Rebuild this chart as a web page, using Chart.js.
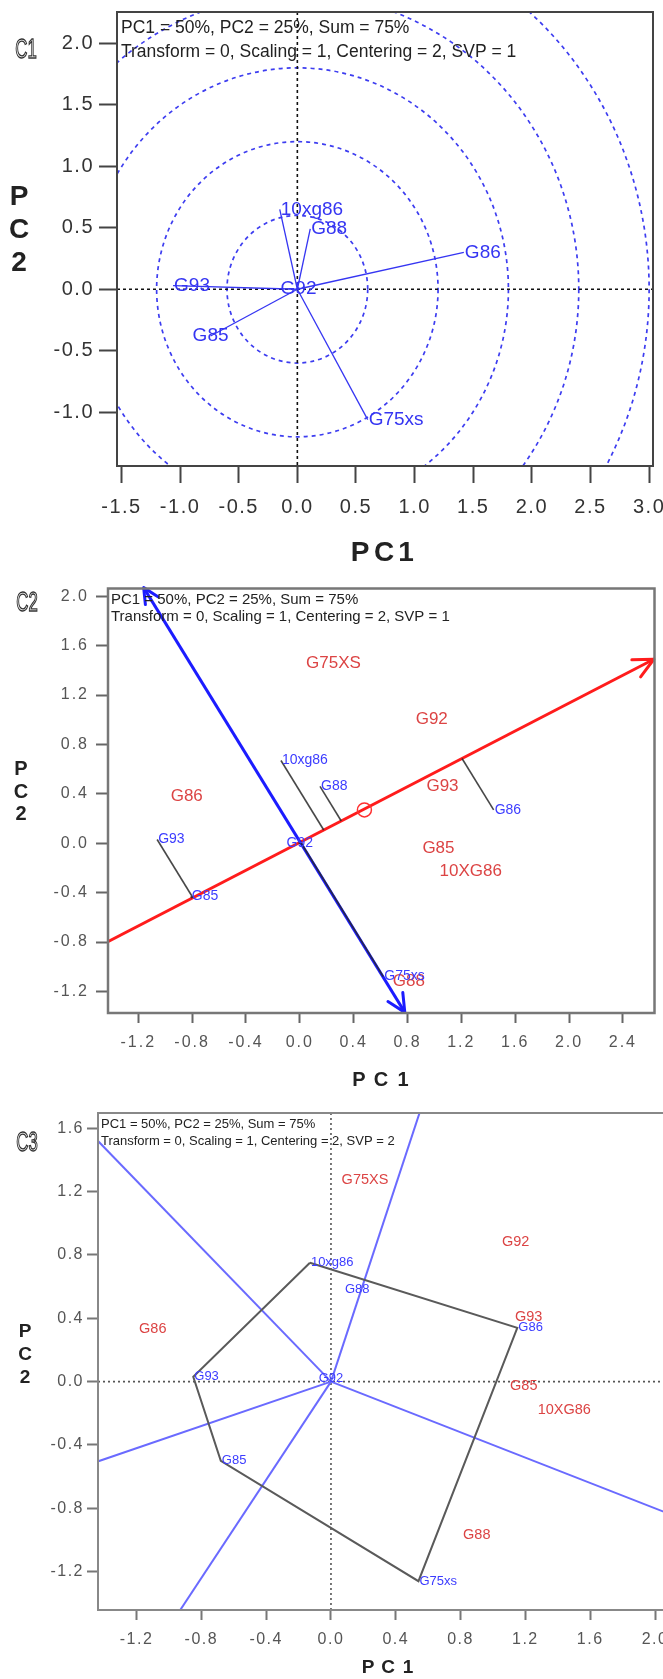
<!DOCTYPE html>
<html>
<head>
<meta charset="utf-8">
<title>GGE biplots C1 - C3</title>
<script src="https://cdn.jsdelivr.net/npm/chart.js@4.4.1/dist/chart.umd.min.js"></script>
<style>
  html, body { margin: 0; padding: 0; background: #fff; }
  #page { position: relative; width: 663px; height: 1679px; overflow: hidden; }
  #page canvas { position: absolute; left: 0; }
</style>
</head>
<body>
<div id="page">
  <canvas id="c1" width="663" height="580" style="top:0px"></canvas>
  <canvas id="c2" width="663" height="520" style="top:580px"></canvas>
  <canvas id="c3" width="700" height="579" style="top:1100px"></canvas>
</div>
<script>
// ---- C1: vector view (SVP = 1) ----
const genos1 = ["G86", "10xg86", "G88", "G93", "G92", "G85", "G75xs"];
const pc1_1 = [1.42, -0.15, 0.11, -1.06, 0.01, -0.74, 0.60];
const pc2_1 = [0.30, 0.65, 0.49, 0.03, 0.00, -0.38, -1.06];
const align1 = ["left", "left", "left", "left", "center", "center", "left"];
const radii1 = [0.6, 1.2, 1.8, 2.4, 3.0];
const xTicks1 = [-1.5, -1.0, -0.5, 0, 0.5, 1.0, 1.5, 2.0, 2.5, 3.0];
const yTicks1 = [-1.0, -0.5, 0, 0.5, 1.0, 1.5, 2.0];
const header1 = ["PC1 = 50%, PC2 = 25%, Sum = 75%", "Transform = 0, Scaling = 1, Centering = 2, SVP = 1"];

// ---- C2: mean vs. stability (SVP = 1) ----
const genos2 = ["G86", "10xg86", "G88", "G93", "G92", "G85", "G75xs"];
const pc1_2 = [1.44, -0.14, 0.15, -1.06, 0.00, -0.81, 0.62];
const pc2_2 = [0.27, 0.67, 0.46, 0.03, 0.00, -0.43, -1.08];
const align2 = ["left", "left", "left", "left", "center", "left", "left"];
const envs2 = ["G75XS", "G92", "G93", "G86", "G85", "10XG86", "G88"];
const envPc1_2 = [0.25, 0.98, 1.06, -0.84, 1.03, 1.27, 0.81];
const envPc2_2 = [1.46, 1.00, 0.46, 0.38, -0.04, -0.23, -1.12];
const aeaX = [-1.43, 2.63];
const aeaY = [-0.80, 1.49];
const atcX = [-1.16, 0.78];
const atcY = [2.07, -1.37];
const aeaMean = [0.48, 0.27];
const xTicks2 = [-1.2, -0.8, -0.4, 0, 0.4, 0.8, 1.2, 1.6, 2.0, 2.4];
const yTicks2 = [-1.2, -0.8, -0.4, 0, 0.4, 0.8, 1.2, 1.6, 2.0];
const header2 = ["PC1 = 50%, PC2 = 25%, Sum = 75%", "Transform = 0, Scaling = 1, Centering = 2, SVP = 1"];

// ---- C3: which-won-where (SVP = 2) ----
const genos3 = ["10xg86", "G86", "G75xs", "G85", "G93", "G88", "G92"];
const pc1_3 = [-0.13, 1.15, 0.54, -0.68, -0.85, 0.08, 0.00];
const pc2_3 = [0.75, 0.34, -1.26, -0.50, 0.03, 0.58, 0.02];
const align3 = ["left", "left", "left", "left", "left", "left", "center"];
const hull3 = ["10xg86", "G86", "G75xs", "G85", "G93"];
const envs3 = ["G75XS", "G92", "G93", "G86", "G85", "10XG86", "G88"];
const envPc1_3 = [0.21, 1.14, 1.22, -1.10, 1.19, 1.44, 0.90];
const envPc2_3 = [1.27, 0.88, 0.41, 0.33, -0.03, -0.18, -0.97];
const rayX3 = [-1.60, 0.58, -1.60, -1.00, 2.40];
const rayY3 = [1.69, 1.80, -0.56, -1.55, -0.96];
const xTicks3 = [-1.2, -0.8, -0.4, 0, 0.4, 0.8, 1.2, 1.6, 2.0];
const yTicks3 = [-1.2, -0.8, -0.4, 0, 0.4, 0.8, 1.2, 1.6];
const header3 = ["PC1 = 50%, PC2 = 25%, Sum = 75%", "Transform = 0, Scaling = 1, Centering = 2, SVP = 2"];

const SANS = '"Liberation Sans", Arial, sans-serif';
const xy = (xs, ys) => xs.map((x, i) => ({ x: x, y: ys[i] }));

function scaleOpts(o) {
    return {
        type: "linear", position: o.position, min: o.min, max: o.max,
        afterBuildTicks: s => { s.ticks = o.ticks.map(v => ({ value: v })); },
        afterFit: s => {
            if (o.position === "bottom") s.height = o.size; else s.width = o.size;
            s.paddingLeft = s.paddingRight = s.paddingTop = s.paddingBottom = 0;
        },
        border: { display: false },
        grid: { drawOnChartArea: false, drawTicks: true, tickLength: o.tickLength, tickColor: o.tickColor, tickWidth: 2 },
        ticks: {
            autoSkip: false, maxRotation: 0, padding: o.pad, color: o.labelColor,
            font: { family: SANS, size: o.fontSize },
            callback: v => v.toFixed(1)
        }
    };
}

function line(data, color, width, order) {
    return { data, showLine: true, borderColor: color, borderWidth: width, pointRadius: 0, fill: false, order: order || 0 };
}

function frame(chart, color, width) {
    const { ctx, chartArea: a } = chart;
    ctx.save();
    ctx.strokeStyle = color; ctx.lineWidth = width;
    ctx.strokeRect(a.left, a.top, a.right - a.left, a.bottom - a.top);
    ctx.restore();
}

function header(ctx, lines, x, ys, size) {
    ctx.save();
    ctx.font = size + "px " + SANS; ctx.fillStyle = "#222";
    ctx.textAlign = "left"; ctx.textBaseline = "middle";
    lines.forEach((t, i) => ctx.fillText(t, x, ys[i]));
    ctx.restore();
}

function panelTag(ctx, text, cx, cy) {
    ctx.save();
    ctx.translate(cx, cy); ctx.scale(0.62, 1);
    ctx.font = "27px " + SANS; ctx.textAlign = "center"; ctx.textBaseline = "middle";
    ctx.strokeStyle = "#333"; ctx.lineWidth = 1.4;
    ctx.strokeText(text, 0, 0);
    ctx.restore();
}

function letters(ctx, chars, xs, ys, size) {
    ctx.save();
    ctx.font = "bold " + size + "px " + SANS; ctx.fillStyle = "#222";
    ctx.textAlign = "center"; ctx.textBaseline = "middle";
    chars.forEach((c, i) => ctx.fillText(c, xs[i], ys[i]));
    ctx.restore();
}

function labels(chart, names, xs, ys, font, color, align) {
    const { ctx, scales: { x, y } } = chart;
    ctx.save();
    ctx.font = font; ctx.fillStyle = color; ctx.textBaseline = "middle";
    names.forEach((n, i) => {
        const a = align ? align[i] : "center";
        ctx.textAlign = a;
        ctx.fillText(n, x.getPixelForValue(xs[i]) + (a === "left" ? 1 : 0), y.getPixelForValue(ys[i]));
    });
    ctx.restore();
}

function clipArea(chart) {
    const { ctx, chartArea: a } = chart;
    ctx.beginPath(); ctx.rect(a.left, a.top, a.right - a.left, a.bottom - a.top); ctx.clip();
}

function zeroLines(chart, color, width, dash) {
    const { ctx, chartArea: a, scales: { x, y } } = chart;
    const x0 = x.getPixelForValue(0), y0 = y.getPixelForValue(0);
    ctx.save(); clipArea(chart);
    ctx.strokeStyle = color; ctx.lineWidth = width; ctx.setLineDash(dash);
    ctx.beginPath();
    ctx.moveTo(x0, a.top); ctx.lineTo(x0, a.bottom);
    ctx.moveTo(a.left, y0); ctx.lineTo(a.right, y0);
    ctx.stroke();
    ctx.restore();
}

function circles(chart, radii, color) {
    const { ctx, scales: { x, y } } = chart;
    const cx = x.getPixelForValue(0), cy = y.getPixelForValue(0);
    ctx.save(); clipArea(chart);
    ctx.strokeStyle = color; ctx.lineWidth = 1.7; ctx.setLineDash([4, 4]);
    radii.forEach(r => {
        ctx.beginPath();
        ctx.ellipse(cx, cy, Math.abs(x.getPixelForValue(r) - cx), Math.abs(y.getPixelForValue(r) - cy), 0, 0, Math.PI * 2);
        ctx.stroke();
    });
    ctx.restore();
}

function arrowHead(chart, fromX, fromY, tipX, tipY, len, color, width) {
    const { ctx, scales: { x, y } } = chart;
    const tx = x.getPixelForValue(tipX), ty = y.getPixelForValue(tipY);
    const ang = Math.atan2(ty - y.getPixelForValue(fromY), tx - x.getPixelForValue(fromX));
    ctx.save();
    ctx.strokeStyle = color; ctx.lineWidth = width; ctx.lineCap = "round";
    ctx.beginPath();
    [-0.45, 0.45].forEach(d => {
        ctx.moveTo(tx, ty);
        ctx.lineTo(tx - len * Math.cos(ang + d), ty - len * Math.sin(ang + d));
    });
    ctx.stroke();
    ctx.restore();
}

function biplot(id, cfg) {
    return new Chart(document.getElementById(id), {
        type: "scatter",
        data: { datasets: cfg.datasets },
        options: {
            responsive: false, animation: false, events: [],
            layout: { padding: cfg.padding },
            plugins: { legend: { display: false }, tooltip: { enabled: false } },
            scales: { x: scaleOpts(cfg.x), y: scaleOpts(cfg.y) }
        },
        plugins: [{
            id: "decor",
            beforeDraw: chart => { chart.ctx.letterSpacing = cfg.tickSpacing; },
            beforeDatasetsDraw: chart => { chart.ctx.letterSpacing = "0px"; if (cfg.under) cfg.under(chart); },
            afterDatasetsDraw: chart => { if (cfg.over) cfg.over(chart); },
            afterDraw: chart => { chart.ctx.letterSpacing = "0px"; if (cfg.last) cfg.last(chart); }
        }]
    });
}

// ---------- C1 ----------
biplot("c1", {
    padding: { top: 12, right: 10, left: 0, bottom: 0 },
    tickSpacing: "1.5px",
    x: { position: "bottom", min: -1.538, max: 3.033, ticks: xTicks1, size: 114, tickLength: 17, tickColor: "#444", pad: 12, labelColor: "#333", fontSize: 20 },
    y: { position: "left", min: -1.437, max: 2.254, ticks: yTicks1, size: 117, tickLength: 18, tickColor: "#444", pad: 5, labelColor: "#333", fontSize: 20 },
    datasets: genos1.map((g, i) => line([{ x: 0, y: 0 }, { x: pc1_1[i], y: pc2_1[i] }], "#3535f2", 1.3)),
    under: chart => {
        circles(chart, radii1, "#3d3df0");
        zeroLines(chart, "#111", 1.6, [3, 3]);
    },
    over: chart => labels(chart, genos1, pc1_1, pc2_1, "19px " + SANS, "#3535f2", align1),
    last: chart => {
        frame(chart, "#444", 2);
        header(chart.ctx, header1, 121, [28, 52], 17.5);
        panelTag(chart.ctx, "C1", 26, 51);
        letters(chart.ctx, ["P", "C", "1"], [360, 384, 406], [553, 553, 553], 28);
        letters(chart.ctx, ["P", "C", "2"], [19, 19, 19], [197, 230, 263], 28);
    }
});

// ---------- C2 ----------
const aeaDir = [aeaX[1] - aeaX[0], aeaY[1] - aeaY[0]];
function footOnAea(px, py) {
    const t = ((px - aeaX[0]) * aeaDir[0] + (py - aeaY[0]) * aeaDir[1]) / (aeaDir[0] * aeaDir[0] + aeaDir[1] * aeaDir[1]);
    return { x: aeaX[0] + t * aeaDir[0], y: aeaY[0] + t * aeaDir[1] };
}

biplot("c2", {
    padding: { top: 8, right: 8, left: 0, bottom: 0 },
    tickSpacing: "2px",
    x: { position: "bottom", min: -1.425, max: 2.635, ticks: xTicks2, size: 87, tickLength: 10, tickColor: "#666", pad: 10, labelColor: "#555", fontSize: 16 },
    y: { position: "left", min: -1.375, max: 2.063, ticks: yTicks2, size: 108, tickLength: 12, tickColor: "#666", pad: 7, labelColor: "#555", fontSize: 16 },
    datasets: [
        ...genos2.map((g, i) => line([{ x: pc1_2[i], y: pc2_2[i] }, footOnAea(pc1_2[i], pc2_2[i])], "rgba(40,40,40,0.85)", 1.6, 0)),
        line(xy(atcX, atcY), "#1c1cff", 3, 1),
        line(xy(aeaX, aeaY), "#ff1c1c", 3, 2),
        { data: [{ x: aeaMean[0], y: aeaMean[1] }], pointRadius: 7, pointBorderColor: "#ff3030", pointBackgroundColor: "rgba(0,0,0,0)", pointBorderWidth: 1.5, order: 0 }
    ],
    over: chart => {
        arrowHead(chart, aeaX[0], aeaY[0], aeaX[1], aeaY[1], 22, "#ff1c1c", 3);
        arrowHead(chart, atcX[1], atcY[1], atcX[0], atcY[0], 17, "#1c1cff", 3);
        arrowHead(chart, atcX[0], atcY[0], atcX[1], atcY[1], 20, "#1c1cff", 3);
        labels(chart, envs2, envPc1_2, envPc2_2, "17px " + SANS, "#dc4444");
        labels(chart, genos2, pc1_2, pc2_2, "14px " + SANS, "#3c3cff", align2);
    },
    last: chart => {
        frame(chart, "#777", 2.5);
        header(chart.ctx, header2, 111, [20, 37], 15);
        panelTag(chart.ctx, "C2", 27, 24);
        letters(chart.ctx, ["P", "C", "1"], [359, 381, 403], [500, 500, 500], 20);
        letters(chart.ctx, ["P", "C", "2"], [21, 21, 21], [189, 212, 234], 20);
    }
});

// ---------- C3 ----------
const hullPts3 = hull3.concat(hull3[0]).map(n => genos3.indexOf(n)).map(i => ({ x: pc1_3[i], y: pc2_3[i] }));

biplot("c3", {
    padding: { top: 13, right: 10, left: 0, bottom: 0 },
    tickSpacing: "1.5px",
    x: { position: "bottom", min: -1.438, max: 2.216, ticks: xTicks3, size: 69, tickLength: 10, tickColor: "#777", pad: 10, labelColor: "#555", fontSize: 16 },
    y: { position: "left", min: -1.442, max: 1.696, ticks: yTicks3, size: 98, tickLength: 11, tickColor: "#777", pad: 3, labelColor: "#555", fontSize: 16 },
    datasets: [
        line(hullPts3, "#5a5a5a", 2, 0),
        ...rayX3.map((rx, i) => line([{ x: 0, y: 0 }, { x: rx, y: rayY3[i] }], "#6a6aff", 2, 1))
    ],
    under: chart => zeroLines(chart, "#555", 1.6, [2, 3]),
    over: chart => {
        labels(chart, envs3, envPc1_3, envPc2_3, "14.5px " + SANS, "#dc4444");
        labels(chart, genos3, pc1_3, pc2_3, "13px " + SANS, "#3c3cff", align3);
    },
    last: chart => {
        frame(chart, "#888", 2);
        header(chart.ctx, header3, 101, [24, 41], 13);
        panelTag(chart.ctx, "C3", 27, 44);
        letters(chart.ctx, ["P", "C", "1"], [368, 388, 408], [568, 568, 568], 19);
        letters(chart.ctx, ["P", "C", "2"], [25, 25, 25], [232, 255, 278], 19);
    }
});
</script>
</body>
</html>
